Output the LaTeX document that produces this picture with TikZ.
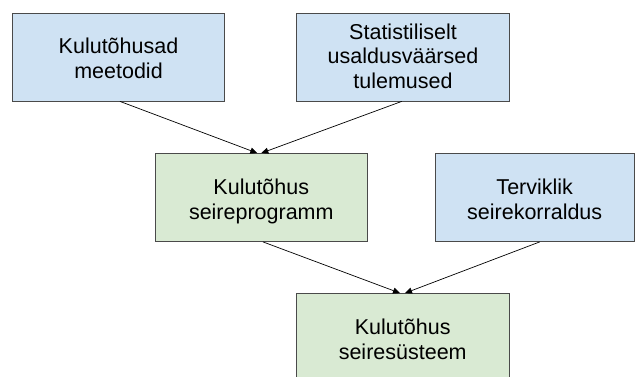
\documentclass[tikz,border=0pt]{standalone}
\usepackage{fontspec}
\setmainfont{Liberation Sans}
\usetikzlibrary{arrows.meta}
\definecolor{boxblue}{HTML}{CFE2F3}
\definecolor{boxgreen}{HTML}{D9EAD3}
\definecolor{boxline}{HTML}{4A4A4A}
\begin{document}
\begin{tikzpicture}[x=1pt,y=-1pt,
  box/.style={draw=boxline, line width=0.8pt, minimum width=212.5pt, minimum height=88pt,
    align=center, font=\fontsize{21.5}{24.7}\selectfont, text height=48pt, text depth=5pt, inner sep=0pt},
  threeline/.style={text height=68pt},
  bluebox/.style={box, fill=boxblue},
  greenbox/.style={box, fill=boxgreen},
  conn/.style={draw=black, line width=0.7pt, -{Triangle[length=7pt,width=6pt]}}]
\useasboundingbox[fill=white] (0,0) rectangle (636,376);
\node[bluebox] (b1) at (118.5,57) {Kulutõhusad\\meetodid};
\node[bluebox, threeline] (b2) at (403,57) {Statistiliselt\\usaldusväärsed\\tulemused};
\node[greenbox] (b3) at (261.3,197.5) {Kulutõhus\\seireprogramm};
\node[bluebox, minimum width=199.5pt] (b4) at (534.7,197.5) {Terviklik\\seirekorraldus};
\node[greenbox] (b5) at (402.7,337.5) {Kulutõhus\\seiresüsteem};
\draw[conn] ([xshift=1.5pt]b1.south) -- ([xshift=-4pt]b3.north);
\draw[conn] ([xshift=-1.3pt]b2.south) -- ([xshift=0pt]b3.north);
\draw[conn] ([xshift=1.7pt]b3.south) -- ([xshift=-2.7pt]b5.north);
\draw[conn] ([xshift=5pt]b4.south) -- ([xshift=2.3pt]b5.north);
\end{tikzpicture}
\end{document}
